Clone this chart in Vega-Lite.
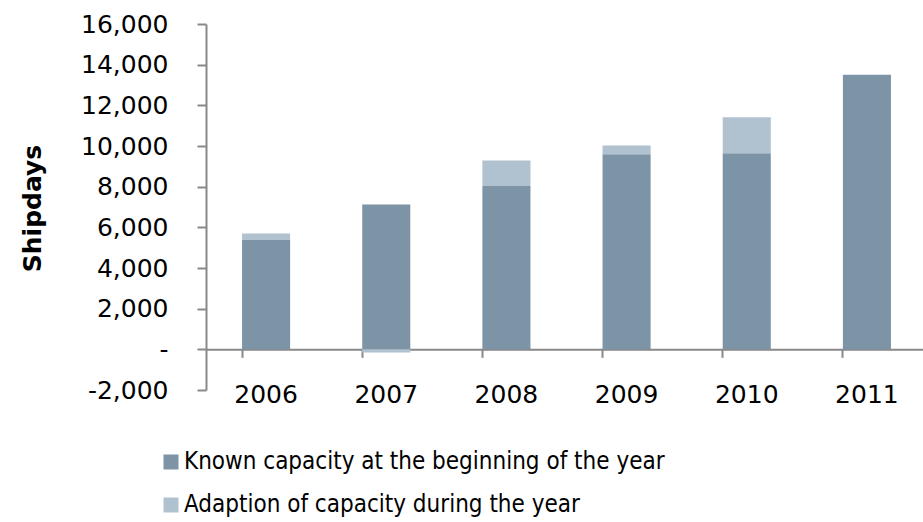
{
  "$schema": "https://vega.github.io/schema/vega-lite/v6.json",
  "autosize": "none",
  "width": 717,
  "height": 366,
  "padding": {"left": 206, "top": 24, "right": 0, "bottom": 132},
  "background": "white",
  "config": {"view": {"stroke": null}, "font": "DejaVu Sans"},
  "data": {
    "values": [
      {"Year": "2006", "Series": "Known capacity at the beginning of the year", "Value": 5380},
      {"Year": "2006", "Series": "Adaption of capacity during the year", "Value": 320},
      {"Year": "2007", "Series": "Known capacity at the beginning of the year", "Value": 7120},
      {"Year": "2007", "Series": "Adaption of capacity during the year", "Value": -160},
      {"Year": "2008", "Series": "Known capacity at the beginning of the year", "Value": 8030},
      {"Year": "2008", "Series": "Adaption of capacity during the year", "Value": 1260},
      {"Year": "2009", "Series": "Known capacity at the beginning of the year", "Value": 9590},
      {"Year": "2009", "Series": "Adaption of capacity during the year", "Value": 440},
      {"Year": "2010", "Series": "Known capacity at the beginning of the year", "Value": 9640},
      {"Year": "2010", "Series": "Adaption of capacity during the year", "Value": 1770},
      {"Year": "2011", "Series": "Known capacity at the beginning of the year", "Value": 13500},
      {"Year": "2011", "Series": "Adaption of capacity during the year", "Value": 0}
    ]
  },
  "mark": {"type": "bar"},
  "encoding": {
    "x": {
      "field": "Year",
      "type": "ordinal",
      "scale": {"range": [0, 721], "paddingInner": 0.6, "paddingOuter": 0.3},
      "axis": {
        "title": null,
        "orient": "bottom",
        "offset": -40.67,
        "bandPosition": 0,
        "domainColor": "#898989",
        "domainWidth": 2,
        "tickColor": "#898989",
        "tickWidth": 2,
        "tickSize": 8,
        "labelAngle": 0,
        "labelFontSize": 25,
        "labelColor": "#000000",
        "labelPadding": 25,
        "labelBaseline": "top",
        "labelFont": "DejaVu Sans"
      }
    },
    "y": {
      "field": "Value",
      "type": "quantitative",
      "stack": "zero",
      "scale": {"domain": [-2000, 16000], "nice": false, "zero": false},
      "axis": {
        "title": "Shipdays",
        "titleFont": "DejaVu Sans",
        "titleFontWeight": "bold",
        "titleFontSize": 25,
        "titleColor": "#000000",
        "titleX": -174,
        "titleY": 184,
        "titleAngle": -90,
        "titleAlign": "center",
        "titleBaseline": "middle",
        "values": [-2000, 0, 2000, 4000, 6000, 8000, 10000, 12000, 14000, 16000],
        "labelExpr": "datum.value == 0 ? '-\u00a0\u00a0' : replace(format(datum.value, ','), '\u2212', '-')",
        "labelFontSize": 25,
        "labelFont": "DejaVu Sans",
        "labelColor": "#000000",
        "labelPadding": 29,
        "tickSize": 9,
        "tickWidth": 2,
        "tickColor": "#898989",
        "domainColor": "#898989",
        "domainWidth": 2,
        "grid": false
      }
    },
    "color": {
      "field": "Series",
      "type": "nominal",
      "scale": {
        "domain": ["Known capacity at the beginning of the year", "Adaption of capacity during the year"],
        "range": ["#7d93a6", "#b0c2d0"]
      },
      "legend": {
        "title": null,
        "orient": "none",
        "direction": "vertical",
        "legendX": -47,
        "legendY": 426,
        "symbolType": "square",
        "symbolSize": 225,
        "symbolStrokeWidth": 0,
        "labelFontSize": 24,
        "labelFont": "DejaVu Sans Condensed, DejaVu Sans",
        "labelColor": "#000000",
        "labelOffset": 1,
        "rowPadding": 19,
        "labelLimit": 700
      }
    },
    "order": {"field": "Series", "sort": "descending"}
  }
}
